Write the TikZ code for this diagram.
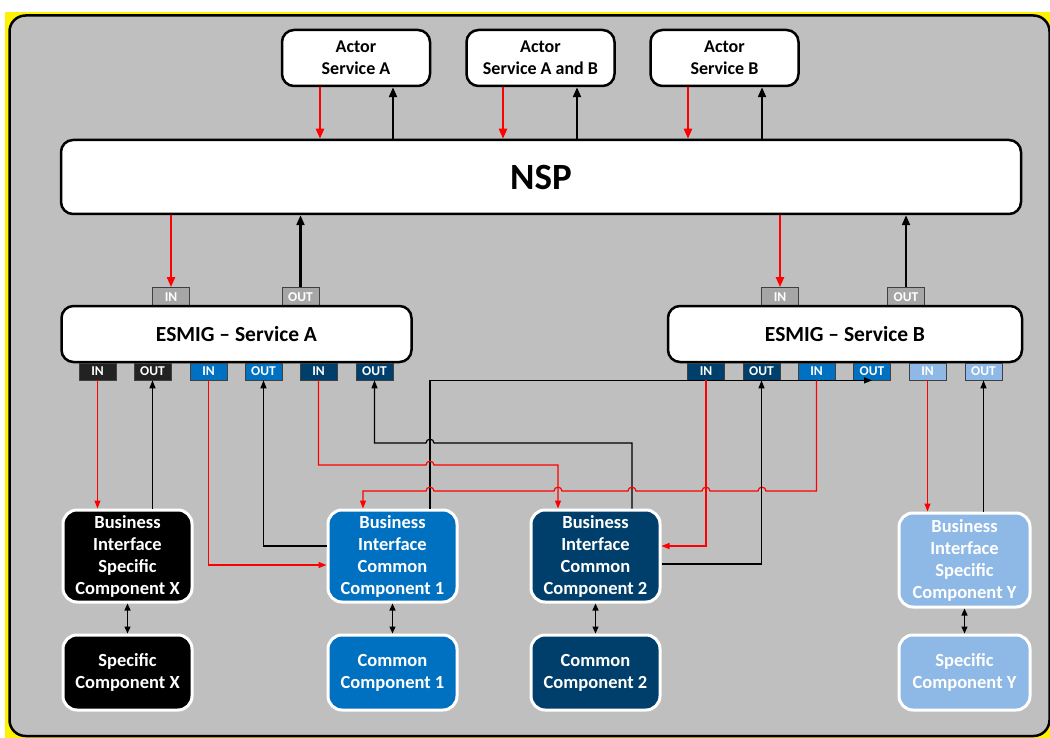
\documentclass[tikz,border=0pt]{standalone}
\usepackage{fontspec}
\setmainfont{Carlito}
\usetikzlibrary{arrows.meta}
\definecolor{bgc}{HTML}{BFBFBF}
\definecolor{bluec}{HTML}{0070C0}
\definecolor{navyc}{HTML}{003F6B}
\definecolor{lightc}{HTML}{8EB8E5}
\definecolor{portg}{HTML}{A6A6A6}
\definecolor{portk}{HTML}{222222}
\begin{document}
\begin{tikzpicture}[x=1pt,y=-1pt,
    whitebox/.style={draw=black, line width=2.5pt, fill=white, rounded corners=12pt, align=center, font=\bfseries\fontsize{18}{22}\selectfont},
    compbox/.style={draw=white, line width=3pt, rounded corners=14pt, text=white, align=center, minimum width=129pt, font=\bfseries\fontsize{18.5}{22}\selectfont},
    portbox/.style={draw=black!75, line width=0.8pt, minimum width=37pt, minimum height=17pt, inner sep=0pt, text=white, font=\bfseries\fontsize{13.5}{13.5}\selectfont},
    toparrow/.style={line width=2.2pt, -{Triangle[length=10pt,width=8pt]}},
    link/.style={line width=1.2pt, -{Triangle[length=8pt,width=6pt]}},
    both/.style={line width=1.3pt, {Triangle[length=7pt,width=6pt]}-{Triangle[length=7pt,width=6pt]}}]
        \useasboundingbox (0,0) rectangle (1050,738);
        \fill[white] (0,0) rectangle (1050,738);
        \fill[yellow] (5,12) rectangle (1052,740);
        \draw[line width=2.5pt, fill=bgc, rounded corners=16pt] (9.5,15.5) rectangle (1049.5,736);
        % actors and NSP
        \node[whitebox, minimum width=148pt, minimum height=56pt] (actA) at (356,58) {Actor\\Service A};
        \node[whitebox, minimum width=148pt, minimum height=56pt] (actAB) at (540.5,58) {Actor\\Service A and B};
        \node[whitebox, minimum width=148pt, minimum height=56pt] (actB) at (724.5,58) {Actor\\Service B};
        \node[whitebox, minimum width=960pt, minimum height=74pt, font=\bfseries\fontsize{37}{40}\selectfont] (nsp) at (541,177) {NSP};
        \draw[toparrow, red] (actA.south -| 320,0) -- (nsp.north -| 320,0);
        \draw[toparrow] (nsp.north -| 393,0) -- (actA.south -| 393,0);
        \draw[toparrow, red] (actAB.south -| 503,0) -- (nsp.north -| 503,0);
        \draw[toparrow] (nsp.north -| 577,0) -- (actAB.south -| 577,0);
        \draw[toparrow, red] (actB.south -| 688,0) -- (nsp.north -| 688,0);
        \draw[toparrow] (nsp.north -| 762,0) -- (actB.south -| 762,0);
        % ESMIG
        \node[portbox, fill=portg, minimum height=19pt] (inAt) at (171,297) {IN};
        \node[portbox, fill=portg, minimum height=19pt] (outAt) at (300.5,297) {OUT};
        \node[portbox, fill=portg, minimum height=19pt] (inBt) at (780,297) {IN};
        \node[portbox, fill=portg, minimum height=19pt] (outBt) at (906,297) {OUT};
        \node[whitebox, minimum width=350pt, minimum height=56pt, font=\bfseries\fontsize{21.5}{24}\selectfont] (esmA) at (236.5,334) {ESMIG -- Service A};
        \node[whitebox, minimum width=354pt, minimum height=56pt, font=\bfseries\fontsize{21.5}{24}\selectfont] (esmB) at (845,334) {ESMIG -- Service B};
        \draw[toparrow, red] (nsp.south -| inAt.north) -- (inAt.north);
        \draw[toparrow] (outAt.north) -- (nsp.south -| outAt.north);
        \draw[toparrow, red] (nsp.south -| inBt.north) -- (inBt.north);
        \draw[toparrow] (outBt.north) -- (nsp.south -| outBt.north);
        \node[portbox, fill=portk] (inAx) at (97.5,371.5) {IN};
        \node[portbox, fill=portk] (outAx) at (152.5,371.5) {OUT};
        \node[portbox, fill=bluec] (inA1) at (208.5,371.5) {IN};
        \node[portbox, fill=bluec] (outA1) at (263.5,371.5) {OUT};
        \node[portbox, fill=navyc] (inA2) at (318.5,371.5) {IN};
        \node[portbox, fill=navyc] (outA2) at (374.5,371.5) {OUT};
        \node[portbox, fill=navyc] (inB2) at (706,371.5) {IN};
        \node[portbox, fill=navyc] (outB2) at (761.5,371.5) {OUT};
        \node[portbox, fill=bluec] (inB1) at (816.5,371.5) {IN};
        \node[portbox, fill=bluec] (outB1) at (872,371.5) {OUT};
        \node[portbox, fill=lightc] (inBy) at (927.5,371.5) {IN};
        \node[portbox, fill=lightc] (outBy) at (983.5,371.5) {OUT};
        % components
        \node[compbox, fill=black, minimum height=92pt] (biscX) at (127.5,556) {Business\\Interface\\Specific\\Component X};
        \node[compbox, fill=black, minimum height=75pt] (scX) at (127.5,672.5) {Specific\\Component X};
        \node[compbox, fill=bluec, minimum height=92pt] (bic1) at (392.5,556) {Business\\Interface\\Common\\Component 1};
        \node[compbox, fill=bluec, minimum height=75pt] (cc1) at (392.5,672.5) {Common\\Component 1};
        \node[compbox, fill=navyc, minimum height=92pt] (bic2) at (595.5,556) {Business\\Interface\\Common\\Component 2};
        \node[compbox, fill=navyc, minimum height=75pt] (cc2) at (595.5,672.5) {Common\\Component 2};
        \node[compbox, fill=lightc, minimum width=131pt, minimum height=94pt] (biscY) at (964.5,560) {Business\\Interface\\Specific\\Component Y};
        \node[compbox, fill=lightc, minimum width=131pt, minimum height=75pt] (scY) at (964.5,672.5) {Specific\\Component Y};
        \draw[both] (biscX) -- (scX);
        \draw[both] (bic1) -- (cc1);
        \draw[both] (bic2) -- (cc2);
        \draw[both] (biscY) -- (scY);
        % links between ports and components
        \draw[link, red] (inAx.south) -- (biscX.north -| inAx.south);
        \draw[link] (biscX.north -| outAx.south) -- (outAx.south);
        \draw[link, red] (inA1.south) |- ([yshift=-9pt]bic1.west);
        \draw[link] ([yshift=10pt]bic1.west) -| (outA1.south);
        \draw[link] (bic1.north -| 430,0) |- (outB1.south);
        \draw[link, red] (inA2.south) -- (inA2.south |- 0,465) -- (426,465) .. controls (426,460) and (434,460) .. (434,465) -- (558,465) -- (bic2.north -| 558,0);
        \draw[link] (bic2.north -| 632,0) -- (632,443) -- (434,443) .. controls (434,438) and (426,438) .. (426,443) -- (outA2.south |- 0,443) -- (outA2.south);
        \draw[link, red] (inB1.south) -- (inB1.south |- 0,491) -- (766,491) .. controls (766,486) and (758,486) .. (758,491)
            -- (710,491) .. controls (710,486) and (702,486) .. (702,491)
            -- (636,491) .. controls (636,486) and (628,486) .. (628,491)
            -- (562,491) .. controls (562,486) and (554,486) .. (554,491)
            -- (434,491) .. controls (434,486) and (426,486) .. (426,491)
            -- (363,491) -- (bic1.north -| 363,0);
        \draw[link, red] (inB2.south) |- ([yshift=10pt]bic2.east);
        \draw[link] ([yshift=-8pt]bic2.east) -| (outB2.south);
        \draw[link, red] (inBy.south) -- (biscY.north -| inBy.south);
        \draw[link] (biscY.north -| outBy.south) -- (outBy.south);
\end{tikzpicture}
\end{document}
